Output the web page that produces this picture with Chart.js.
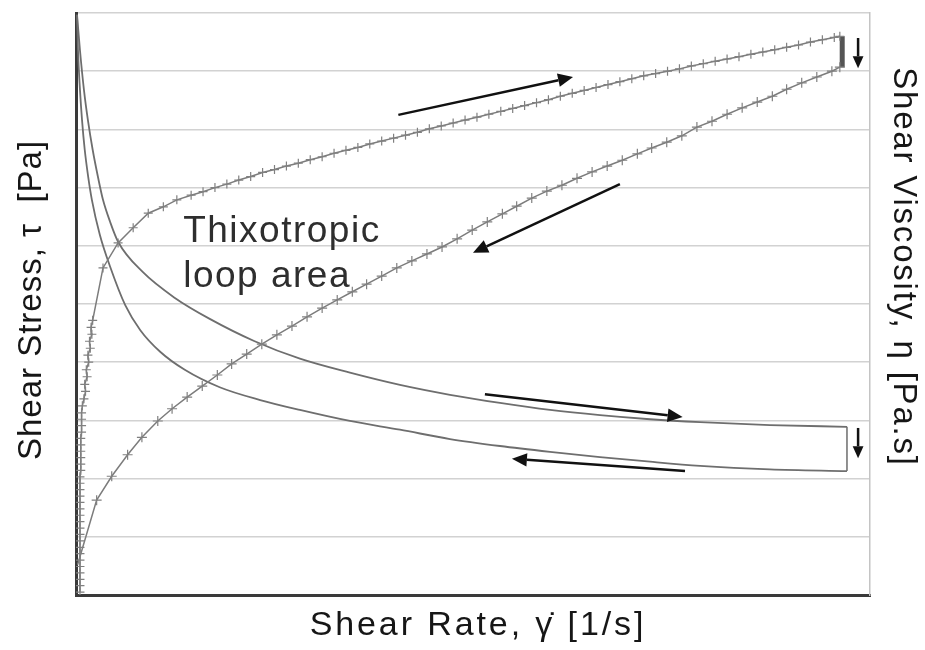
<!DOCTYPE html>
<html>
<head>
<meta charset="utf-8">
<script src="https://cdn.jsdelivr.net/npm/chart.js@4.4.1/dist/chart.umd.min.js"></script>
<style>
  html, body { margin: 0; padding: 0; background: #fff; }
  #wrap { width: 925px; height: 650px; }
</style>
</head>
<body>
<div id="wrap"><canvas id="loopChart"></canvas></div>
<script>
// Thixotropic loop - arbitrary units, shear rate 0..100, stress / viscosity 0..100

// up-ramp of the shear stress curve (x markers)
const upRate = [
  0.5, 0.5, 0.5, 0.5, 0.5, 0.5, 0.5, 0.5, 0.5, 0.5, 0.5, 0.5, 0.5, 0.5, 0.5,
  0.5, 0.5, 0.5, 0.5, 0.6, 0.6, 0.6, 0.6, 0.6, 0.6, 0.7, 0.7, 0.7, 0.7,
  0.8, 1.0, 1.2, 1.1, 1.4, 1.3, 1.6, 1.5, 1.8, 1.7, 2.0, 1.9, 2.1,
  3.4, 5.3, 7.2, 9.1, 11.0, 12.7,
  14.5, 16, 17.5, 19, 20.5, 22, 23.5, 25, 26.5, 28, 29.5, 31, 32.5, 34, 35.5,
  37, 38.5, 40, 41.5, 43, 44.5, 46, 47.5, 49, 50.5, 52, 53.5, 55, 56.5, 58,
  59.5, 61, 62.5, 64, 65.5, 67, 68.5, 70, 71.5, 73, 74.5, 76, 77.5, 79, 80.5,
  82, 83.5, 85, 86.5, 88, 89.5, 91, 92.5, 94, 95.5, 96.2
];
const upStress = [
  0.5, 1.6, 2.7, 3.8, 4.9, 6.0, 7.1, 8.2, 9.3, 10.4, 11.5, 12.6, 13.7, 14.8, 15.9,
  17.0, 18.1, 19.2, 20.3, 21.4, 22.5, 23.6, 24.7, 25.8, 26.9, 28.0, 29.1, 30.2, 31.3,
  32.5, 33.7, 35.0, 36.2, 37.5, 38.7, 40.0, 41.2, 42.4, 43.6, 44.8, 46.0, 47.2,
  56.2, 60.5, 63.1, 65.6, 66.7, 67.9,
  68.7, 69.3, 70.0, 70.6, 71.3, 71.9, 72.6, 73.1, 73.7, 74.2, 74.8, 75.3, 75.9, 76.4, 76.9,
  77.5, 78.0, 78.5, 79.0, 79.5, 80.1, 80.6, 81.1, 81.6, 82.1, 82.6, 83.1, 83.6, 84.1, 84.6,
  85.1, 85.7, 86.2, 86.7, 87.2, 87.7, 88.2, 88.7, 89.2, 89.6, 90.0, 90.4, 90.9, 91.3, 91.7,
  92.1, 92.5, 92.9, 93.3, 93.7, 94.1, 94.5, 95.0, 95.4, 95.8, 96.0
];

// down-ramp of the shear stress curve
const downRate = [
  0.2, 2.6, 4.5, 6.5, 8.3, 10.3, 12.1, 14.0, 15.9, 17.8, 19.6, 21.5, 23.4, 25.3, 27.2,
  29.1, 31.0, 32.9, 34.8, 36.6, 38.5, 40.4, 42.3, 44.2, 46.1, 48.0, 49.9, 51.8, 53.7,
  55.5, 57.4, 59.3, 61.2, 63.1, 65.0, 66.9, 68.8, 70.7, 72.5, 74.4, 76.3, 78.2, 80.1,
  82.0, 83.9, 85.8, 87.7, 89.5, 91.4, 93.3, 95.2, 96.2
];
const downStress = [
  5.2, 16.3, 20.4, 24.1, 27.1, 29.9, 32.0, 34.0, 35.9, 37.8, 39.7, 41.4, 43.1, 44.7, 46.2,
  47.8, 49.3, 50.7, 52.1, 53.4, 54.8, 56.2, 57.4, 58.6, 59.8, 61.2, 62.7, 64.1, 65.5,
  66.8, 68.2, 69.4, 70.4, 71.6, 72.7, 73.7, 74.7, 75.8, 76.8, 77.8, 78.9, 80.4, 81.4,
  82.6, 83.7, 84.7, 85.7, 86.9, 88.0, 89.0, 90.0, 90.7
];

// hold at max shear rate (stress drops between the ramps)
const holdRate = [96.5, 96.5];
const holdStress = [96.0, 90.7];

// viscosity, up-ramp (upper curve) and down-ramp (lower curve)
const viscUpRate = [0.13, 0.5, 1.0, 1.5, 2.1, 2.8, 3.4, 4.3, 5.3, 8.4, 12.5, 16.9, 22.5, 28.2, 34.5, 40.8, 47.1, 53.4, 59.7, 66.0, 72.3, 78.6, 87.4, 97.1];
const viscUp = [99.7, 93.6, 86.8, 81.6, 76.5, 71.6, 67.9, 64.1, 60.7, 55.5, 51.0, 47.4, 43.6, 40.6, 38.2, 36.1, 34.4, 33.0, 31.8, 30.9, 30.2, 29.7, 29.2, 28.9];
const viscDownRate = [0.13, 0.25, 0.5, 0.76, 1.1, 1.5, 2.0, 3.0, 4.3, 6.2, 8.1, 10.6, 13.7, 18.1, 23.2, 28.2, 34.5, 40.8, 47.1, 53.4, 59.7, 66.0, 72.3, 78.6, 87.4, 97.1];
const viscDown = [99.7, 93.6, 86.8, 81.6, 76.5, 72.2, 67.9, 61.9, 56.4, 49.8, 45.5, 41.8, 38.7, 35.7, 33.5, 31.8, 29.9, 28.4, 26.8, 25.6, 24.6, 23.7, 22.9, 22.2, 21.6, 21.3];
const viscHoldRate = [97.1, 97.1];
const viscHold = [28.9, 21.3];

// direction arrows [rate, value] -> [rate, value]
const arrows = [
  { from: [40.6, 82.5], to: [62.6, 89.0], head: 15 },
  { from: [68.5, 70.6], to: [50.0, 58.8], head: 15 },
  { from: [51.5, 34.5], to: [76.4, 30.6], head: 15 },
  { from: [76.7, 21.3], to: [54.9, 23.4], head: 15 },
  { from: [98.5, 95.7], to: [98.5, 90.5], head: 12 },
  { from: [98.5, 28.7], to: [98.5, 23.5], head: 12 }
];

const loopLabel = ['Thixotropic', 'loop area'];
const loopLabelAt = [13.5, 60.7];

const titleLeft = 'Shear Stress, \u03c4  [Pa]';
const titleRight = 'Shear Viscosity, \u03b7 [Pa.s]';
const titleBottom = 'Shear Rate, \u03b3\u0307 [1/s]';

function zip(xs, ys) {
    return xs.map((v, i) => ({ x: v, y: ys[i] }));
}

function drawArrow(ctx, x0, y0, x1, y1, head) {
    const ang = Math.atan2(y1 - y0, x1 - x0);
    const bx = x1 - head * Math.cos(ang);
    const by = y1 - head * Math.sin(ang);
    ctx.beginPath();
    ctx.moveTo(x0, y0);
    ctx.lineTo(bx, by);
    ctx.stroke();
    const w = head * 0.45;
    ctx.beginPath();
    ctx.moveTo(x1, y1);
    ctx.lineTo(bx + w * Math.sin(ang), by - w * Math.cos(ang));
    ctx.lineTo(bx - w * Math.sin(ang), by + w * Math.cos(ang));
    ctx.closePath();
    ctx.fill();
}

function drawText(ctx, text, cx, cy, angle, size, spacing) {
    ctx.save();
    ctx.translate(cx, cy);
    ctx.rotate(angle);
    ctx.font = size + 'px "Liberation Sans", Arial, sans-serif';
    ctx.letterSpacing = spacing + 'px';
    ctx.fillStyle = '#161616';
    ctx.textAlign = 'center';
    ctx.textBaseline = 'middle';
    ctx.fillText(text, 0, 0);
    ctx.restore();
}

const extras = {
    id: 'extras',
    afterDatasetsDraw(chart) {
        const { ctx, chartArea: area, scales: { x, y } } = chart;
        ctx.save();
        ctx.strokeStyle = '#111';
        ctx.fillStyle = '#111';
        ctx.lineWidth = 2.5;
        arrows.forEach(a => {
            drawArrow(ctx,
                x.getPixelForValue(a.from[0]), y.getPixelForValue(a.from[1]),
                x.getPixelForValue(a.to[0]), y.getPixelForValue(a.to[1]), a.head);
        });

        // label inside the loop
        ctx.font = '37px "Liberation Sans", Arial, sans-serif';
        ctx.letterSpacing = '1.5px';
        ctx.fillStyle = '#2e2e2e';
        ctx.textAlign = 'left';
        ctx.textBaseline = 'alphabetic';
        const lx = x.getPixelForValue(loopLabelAt[0]);
        const ly = y.getPixelForValue(loopLabelAt[1]);
        ctx.fillText(loopLabel[0], lx, ly);
        ctx.fillText(loopLabel[1], lx, ly + 45);
        ctx.restore();

        // axis titles
        drawText(ctx, titleLeft, area.left - 44, area.top + 287, -Math.PI / 2, 33, 1);
        drawText(ctx, titleRight, area.right + 33, area.top + 254, Math.PI / 2, 33, 1.8);
        drawText(ctx, titleBottom, (area.left + area.right) / 2 + 5, area.bottom + 31, 0, 34, 2.9);
    }
};

const stressLine = '#7c7c7c';
const viscLine = '#6e6e6e';

new Chart(document.getElementById('loopChart'), {
    type: 'scatter',
    data: {
        datasets: [
            {
                label: 'Shear stress (up)',
                data: zip(upRate, upStress),
                showLine: true,
                borderColor: stressLine,
                borderWidth: 1.5,
                pointStyle: 'cross',
                pointRadius: 4.5,
                pointBorderColor: '#808080',
                pointBorderWidth: 1.2
            },
            {
                label: 'Shear stress (down)',
                data: zip(downRate, downStress),
                showLine: true,
                borderColor: stressLine,
                borderWidth: 1.5,
                pointStyle: 'cross',
                pointRadius: ctx => ctx.dataIndex === 0 ? 0 : 5,
                pointBorderColor: '#808080',
                pointBorderWidth: 1.2
            },
            {
                label: 'Hold',
                data: zip(holdRate, holdStress),
                showLine: true,
                borderColor: '#555',
                borderWidth: 5,
                pointRadius: 0
            },
            {
                label: 'Viscosity (up)',
                data: zip(viscUpRate, viscUp),
                yAxisID: 'y2',
                showLine: true,
                borderColor: viscLine,
                borderWidth: 1.8,
                pointRadius: 0,
                cubicInterpolationMode: 'monotone'
            },
            {
                label: 'Viscosity (down)',
                data: zip(viscDownRate, viscDown),
                yAxisID: 'y2',
                showLine: true,
                borderColor: viscLine,
                borderWidth: 1.8,
                pointRadius: 0,
                cubicInterpolationMode: 'monotone'
            },
            {
                label: 'Viscosity hold',
                data: zip(viscHoldRate, viscHold),
                yAxisID: 'y2',
                showLine: true,
                borderColor: viscLine,
                borderWidth: 1.5,
                pointRadius: 0
            }
        ]
    },
    options: {
        responsive: true,
        maintainAspectRatio: false,
        animation: false,
        layout: {
            padding: { left: 76, right: 55, top: 13, bottom: 55 }
        },
        plugins: {
            legend: { display: false },
            tooltip: { enabled: false }
        },
        scales: {
            x: {
                type: 'linear',
                min: 0,
                max: 100,
                ticks: { display: false },
                grid: { display: true, drawOnChartArea: false, drawTicks: false },
                border: { color: '#3a3a3a', width: 3 }
            },
            y: {
                min: 0,
                max: 100,
                ticks: { display: false, stepSize: 10 },
                grid: { color: '#d2d2d2', lineWidth: 1.5, drawTicks: false },
                border: { color: '#3a3a3a', width: 3 }
            },
            y2: {
                position: 'right',
                min: 0,
                max: 100,
                ticks: { display: false },
                grid: { drawOnChartArea: false, drawTicks: false },
                border: { color: '#c4c4c4', width: 1.5 }
            }
        }
    },
    plugins: [extras]
});
</script>
</body>
</html>
